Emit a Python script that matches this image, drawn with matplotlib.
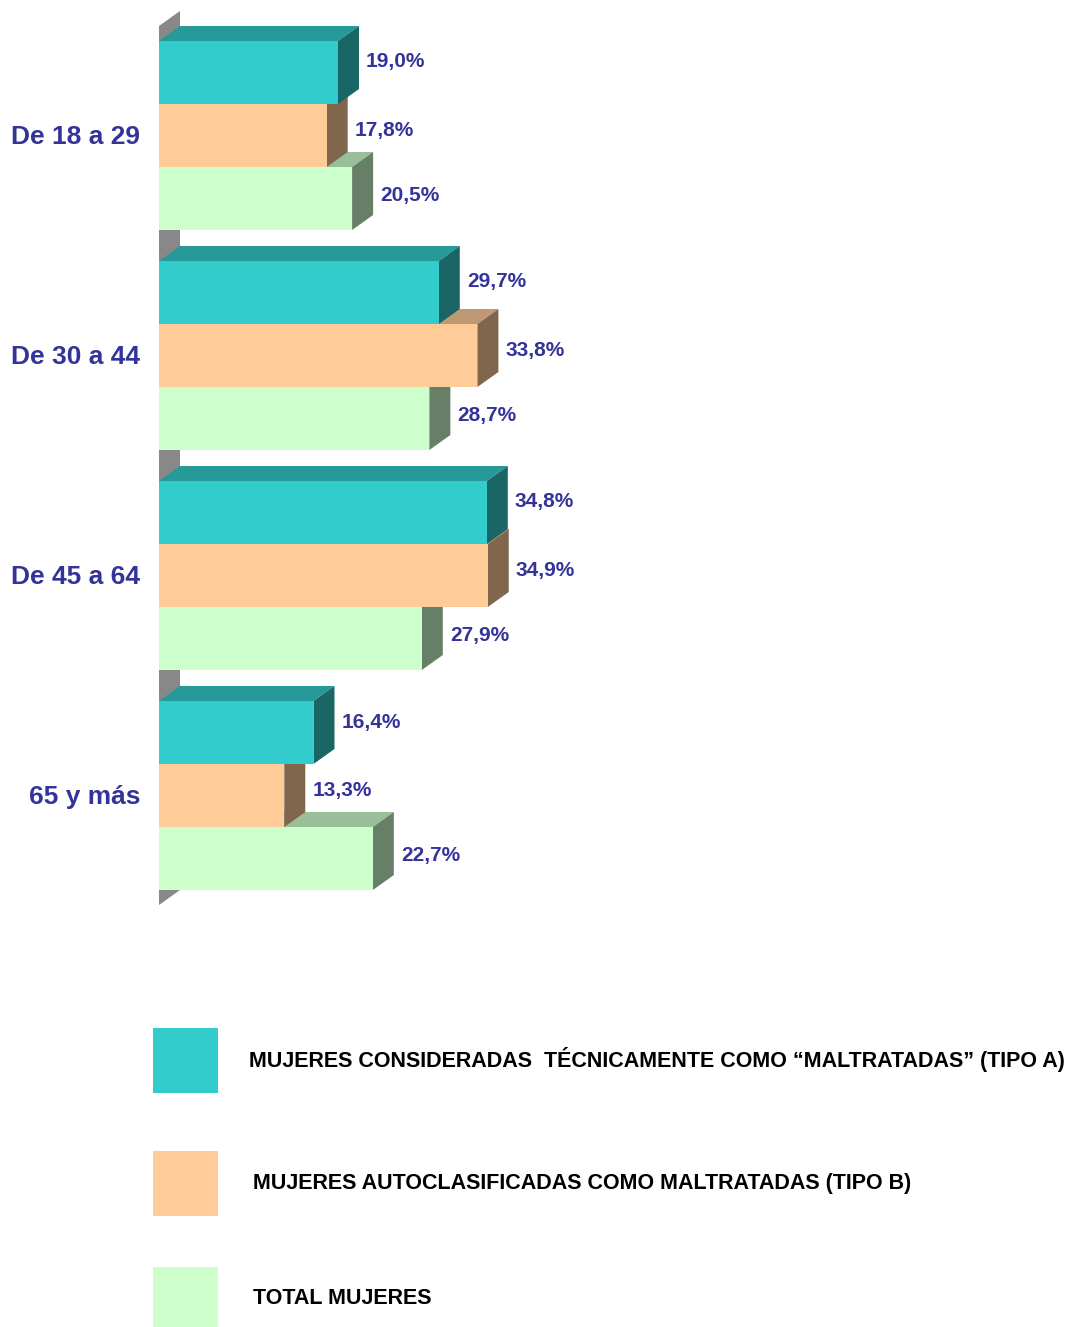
import numpy as np
import matplotlib
matplotlib.use('Agg')
import matplotlib.pyplot as plt
from matplotlib.patches import Polygon, Rectangle

plt.rcParams['font.family'] = ['Liberation Sans', 'DejaVu Sans']

# data
groups = ['De 18 a 29', 'De 30 a 44', 'De 45 a 64', '65 y más']
tipo_a = [19.0, 29.7, 34.8, 16.4]
tipo_b = [17.8, 33.8, 34.9, 13.3]
total = [20.5, 28.7, 27.9, 22.7]
series = [tipo_a, tipo_b, total]
legend_labels = ['MUJERES CONSIDERADAS  TÉCNICAMENTE COMO \u201cMALTRATADAS\u201d (TIPO A)',
                 'MUJERES AUTOCLASIFICADAS COMO MALTRATADAS (TIPO B)',
                 'TOTAL MUJERES']

# colours: front, top, side
faces = [('#33CCCC', '#269999', '#1A6666'),
         ('#FFCC99', '#BF9973', '#7F664C'),
         ('#CCFFCC', '#99BF99', '#667F66')]
wall_c = '#888888'
txt_c = '#333399'
lab_lift = [0.7, 0.33, 0.2]   # how far labels sit up toward the side face

W, H = 1078, 1327
fig = plt.figure(figsize=(W / 100, H / 100), dpi=100)
ax = fig.add_axes([0, 0, 1, 1])

# scale setup (px per unit)
px_x = 9.42      # pixels per percent
px_y = 63.0      # pixels per bar
x0_px, y0_px = 159, 41
ax.set_xlim(-x0_px / px_x, (W - x0_px) / px_x)
ax.set_ylim((H - y0_px) / px_y, -y0_px / px_y)
ax.axis('off')

DX = 21 / px_x   # depth offset in x
DY = 15 / px_y   # depth offset in y (upwards)
pitch = 220 / px_y
n_s = len(series)

# back wall
y_top = -DY
y_bot = (len(groups) - 1) * pitch + n_s + DY
ax.add_patch(Polygon([(0, y_top), (DX, y_top - DY), (DX, y_bot - DY), (0, y_bot)],
                     closed=True, fc=wall_c, ec='none', zorder=1))


def bar3d(y, v, cols, z):
    front, top, side = cols
    ax.add_patch(Polygon([(0, y), (v, y), (v + DX, y - DY), (DX, y - DY)],
                         closed=True, fc=top, ec='none', zorder=z))
    ax.add_patch(Polygon([(v, y), (v + DX, y - DY), (v + DX, y + 1 - DY), (v, y + 1)],
                         closed=True, fc=side, ec='none', zorder=z))
    ax.add_patch(Rectangle((0, y), v, 1, fc=front, ec='none', zorder=z))


z = 2
for g in range(len(groups) - 1, -1, -1):
    base = g * pitch
    for j in range(n_s - 1, -1, -1):
        y = base + j
        v = series[j][g]
        bar3d(y, v, faces[j], z)
        z += 1
        ax.text(v + DX + 0.75, y + 0.5 - DY * lab_lift[j], f'{v:.1f}%'.replace('.', ','),
                color=txt_c, fontsize=15, fontweight='bold', va='center', ha='left', zorder=50)
    ax.text(-2.0, base + n_s / 2 + 0.03, groups[g], color=txt_c, fontsize=19,
            fontweight='bold', ha='right', va='center', zorder=50)

# legend
leg_y = [1028, 1151, 1267]
leg_tx = [249, 253, 253]
for i, lab in enumerate(legend_labels):
    fig.patches.append(Rectangle((153 / W, 1 - (leg_y[i] + 65) / H), 65 / W, 65 / H,
                                 transform=fig.transFigure, fc=faces[i][0], ec='none'))
    fig.text(leg_tx[i] / W, 1 - (leg_y[i] + 32) / H, lab, fontsize=15.5, fontweight='bold',
             color='black', va='center', ha='left')

fig.savefig('out.png', dpi=100)
